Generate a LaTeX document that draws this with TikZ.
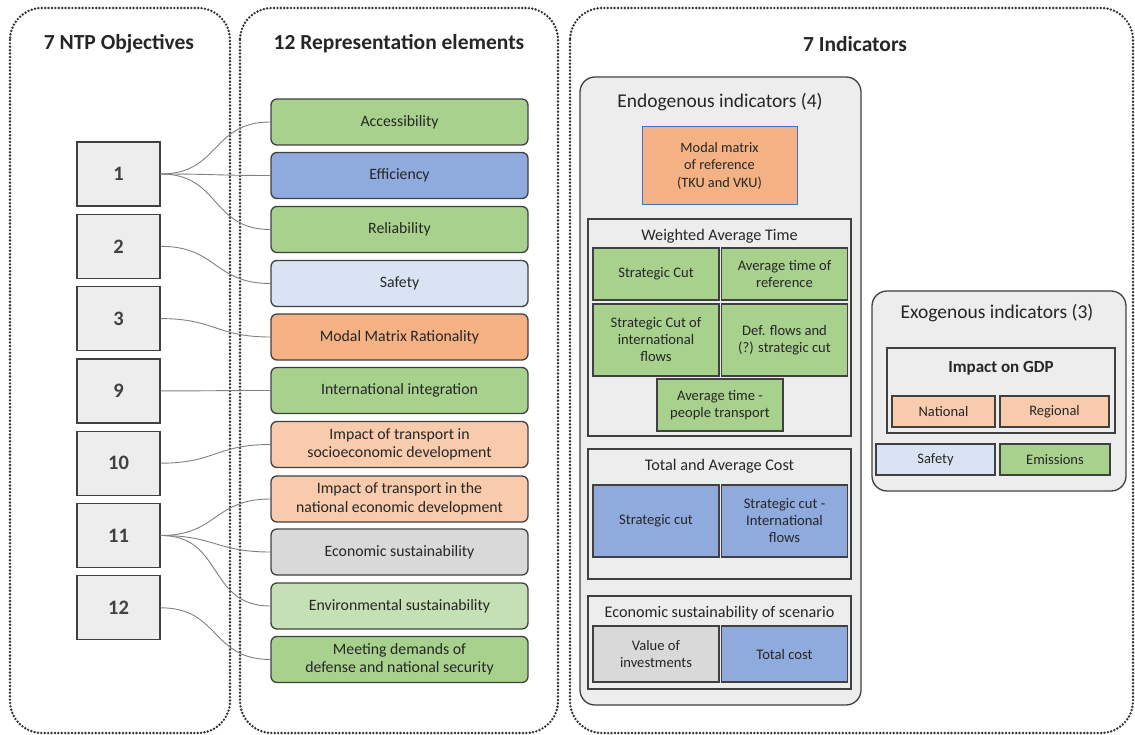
\documentclass[tikz,border=0pt]{standalone}
\usepackage{fontspec}
\setmainfont{Carlito}
\begin{document}
\definecolor{txt}{HTML}{262626}
\definecolor{edge}{HTML}{404040}
\definecolor{dots}{HTML}{333333}
\definecolor{panel}{HTML}{EDEDED}
\definecolor{cgreen}{HTML}{A9D18E}
\definecolor{clgreen}{HTML}{C5E0B4}
\definecolor{cblue}{HTML}{8FAADC}
\definecolor{clblue}{HTML}{DAE3F3}
\definecolor{corange}{HTML}{F4B183}
\definecolor{clorange}{HTML}{F8CBAD}
\definecolor{cgray}{HTML}{D9D9D9}
\definecolor{conn}{HTML}{808080}
\definecolor{accent}{HTML}{4472C4}
\begin{tikzpicture}[x=1pt,y=-1pt,
  every node/.style={text=txt,align=center,inner sep=0pt},
  group/.style={draw=dots,line width=2.7pt,dash pattern=on 0pt off 3.4pt,line cap=round,rounded corners=32pt},
  gtitle/.style={font=\fontsize{21.5}{25}\selectfont\bfseries},
  numbox/.style={draw=edge,fill=panel,line width=1.3pt,minimum width=83pt,minimum height=64pt,font=\fontsize{20.5}{24}\selectfont\bfseries,text=edge},
  elem/.style={draw=edge,line width=1.3pt,rounded corners=6pt,minimum width=257pt,minimum height=46pt,font=\fontsize{15.8}{18.5}\selectfont},
  cell/.style={draw=edge,line width=1.2pt,minimum width=126pt,font=\fontsize{14.6}{17}\selectfont},
  smallcell/.style={cell,font=\fontsize{14.5}{17}\selectfont,minimum height=31pt},
  sub/.style={draw=edge,line width=1.2pt,fill=panel},
  subtitle/.style={font=\fontsize{16.2}{19}\selectfont},
  ptitle/.style={font=\fontsize{19.5}{23}\selectfont},
  ppanel/.style={draw=edge,line width=1.3pt,fill=panel,rounded corners=15pt},
  link/.style={draw=conn,line width=0.9pt,out=0,in=180,looseness=1.25}]
\useasboundingbox (0,0) rectangle (1135,735);

% dotted column frames
\draw[group] (10,8) rectangle (230,733);
\draw[group] (240,8) rectangle (558,733);
\draw[group] (570,8) rectangle (1133,733);
\node[gtitle] (t1) at (119,44) {7 NTP Objectives};
\node[gtitle] (t2) at (399,44) {12 Representation elements};
\node[gtitle] (t3) at (855,44) {7 Indicators};

% objectives
\foreach \n/\lab [count=\i from 0] in {o1/1,o2/2,o3/3,o9/9,o10/10,o11/11,o12/12}
  \node[numbox] (\n) at (118.5,{174+72.3*\i}) {\lab};

% representation elements
\node[elem,fill=cgreen]   (e1)  at (399.5,122) {Accessibility};
\node[elem,fill=cblue]    (e2)  at (399.5,175.5) {Efficiency};
\node[elem,fill=cgreen]   (e3)  at (399.5,229.5) {Reliability};
\node[elem,fill=clblue]   (e4)  at (399.5,283.5) {Safety};
\node[elem,fill=corange]  (e5)  at (399.5,337) {Modal Matrix Rationality};
\node[elem,fill=cgreen]   (e6)  at (399.5,390.5) {International integration};
\node[elem,fill=clorange] (e7)  at (399.5,444.5) {Impact of transport in\\socioeconomic development};
\node[elem,fill=clorange] (e8)  at (399.5,499) {Impact of transport in the\\national economic development};
\node[elem,fill=cgray]    (e9)  at (399.5,552) {Economic sustainability};
\node[elem,fill=clgreen]  (e10) at (399.5,606) {Environmental sustainability};
\node[elem,fill=cgreen]   (e11) at (399.5,659.5) {Meeting demands of\\defense and national security};

% links between objectives and elements
\draw[link] (o1.east) to (e1.west);
\draw[link] (o1.east) to (e2.west);
\draw[link] (o1.east) to (e3.west);
\draw[link] (o2.east) to (e4.west);
\draw[link] (o3.east) to (e5.west);
\draw[link] (o9.east) to (e6.west);
\draw[link] (o10.east) to (e7.west);
\draw[link] (o11.east) to (e8.west);
\draw[link] (o11.east) to (e9.west);
\draw[link] (o11.east) to (e10.west);
\draw[link] (o12.east) to (e11.west);

% endogenous indicators
\draw[ppanel] (580,77) rectangle (861,705);
\node[ptitle] (endo) at (720,102) {Endogenous indicators (4)};
\node[draw=accent,line width=1pt,fill=corange,minimum width=155pt,minimum height=78pt,font=\fontsize{14.3}{17.5}\selectfont] (mm) at (719.5,166) {Modal matrix\\of reference\\(TKU and VKU)};

% weighted average time
\draw[sub] (588,219) rectangle (851,436);
\node[subtitle] (wat) at (719.5,236) {Weighted Average Time};
\node[cell,fill=cgreen,minimum height=52pt] (w1) at (656,274) {Strategic Cut};
\node[cell,fill=cgreen,minimum height=52pt] (w2) at (784.5,274) {Average time of\\reference};
\node[cell,fill=cgreen,minimum height=72pt] (w3) at (656,340) {Strategic Cut of\\international\\flows};
\node[cell,fill=cgreen,minimum height=72pt] (w4) at (784.5,340) {Def. flows and\\(?) strategic cut};
\node[cell,fill=cgreen,minimum height=52pt] (w5) at (720,405) {Average time -\\people transport};

% total and average cost
\draw[sub] (588,449) rectangle (851,579);
\node[subtitle] (tac) at (719.5,466) {Total and Average Cost};
\node[cell,fill=cblue,minimum height=72pt] (c1) at (656,521) {Strategic cut};
\node[cell,fill=cblue,minimum height=72pt] (c2) at (784.5,521) {Strategic cut -\\International\\flows};

% economic sustainability of scenario
\draw[sub] (588,596) rectangle (851,689);
\node[subtitle] (ess) at (719.5,613) {Economic sustainability of scenario};
\node[cell,fill=cgray,minimum height=56pt] (s1) at (656,654) {Value of\\investments};
\node[cell,fill=cblue,minimum height=56pt] (s2) at (784.5,654) {Total cost};

% exogenous indicators
\draw[ppanel] (872,291) rectangle (1126,491);
\node[ptitle] (exo) at (997,313) {Exogenous indicators (3)};
\draw[sub] (887,348) rectangle (1115,433);
\node[font=\fontsize{17}{20}\selectfont\bfseries] (gdp) at (1001,368) {Impact on GDP};
\node[smallcell,fill=clorange,minimum width=103pt] (x1) at (943.5,411.5) {National};
\node[smallcell,fill=clorange,minimum width=109pt] (x2) at (1054.5,411.5) {Regional};
\node[smallcell,fill=clblue,minimum width=119pt] (x3) at (935.5,459.5) {Safety};
\node[smallcell,fill=cgreen,minimum width=110pt] (x4) at (1055,459.5) {Emissions};
\end{tikzpicture}
\end{document}
